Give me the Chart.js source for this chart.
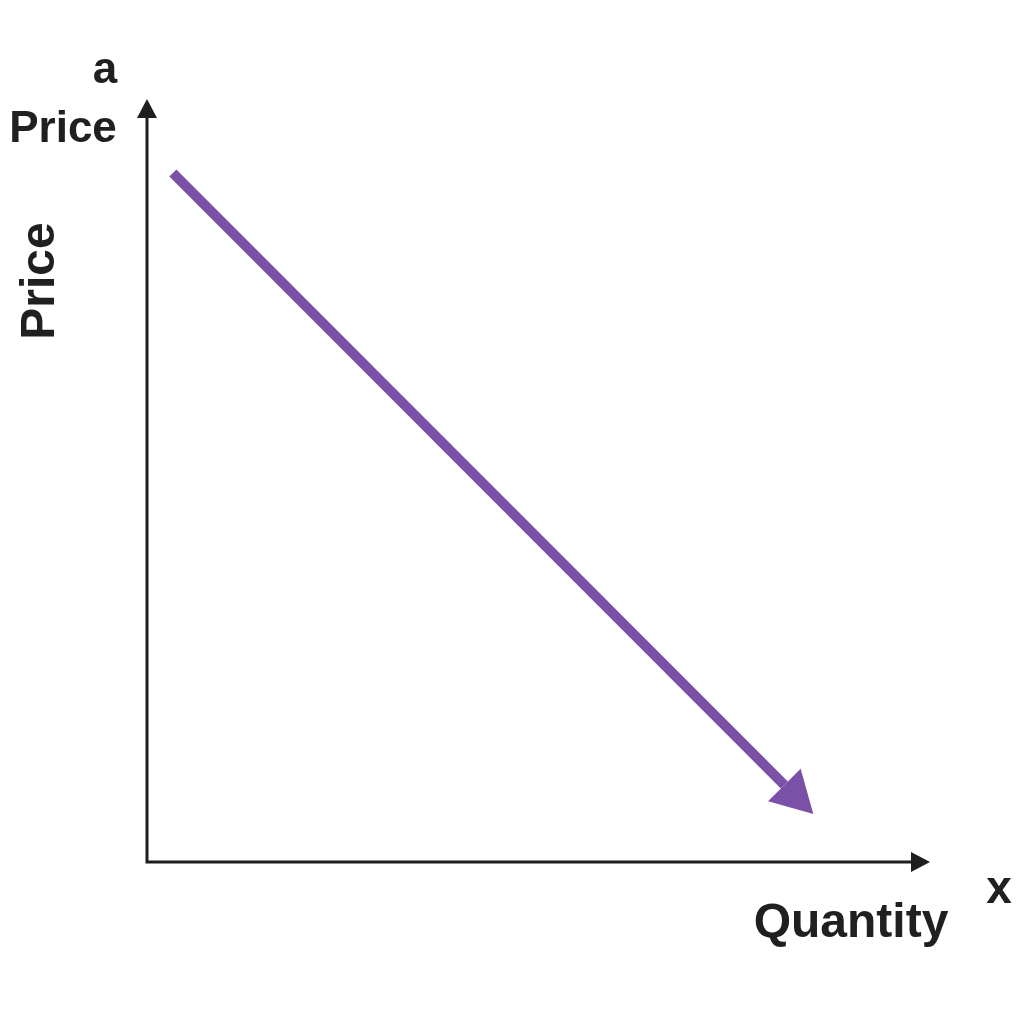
<!DOCTYPE html>
<html>
<head>
<meta charset="utf-8">
<script src="https://cdn.jsdelivr.net/npm/chart.js@4/dist/chart.umd.min.js"></script>
<style>
  body { margin: 0; background: #fff; }
  #wrap { width: 1024px; height: 1024px; }
</style>
</head>
<body>
<div id="wrap"><canvas id="demand" width="1024" height="1024"></canvas></div>
<script>
// demand curve: quantity vs price (arbitrary units 0-10)
const quantity = [0.33, 8.14];
const price = [9.03, 1.01];
const axisMax = 10;

const labels = {
  yTop: 'a',
  yName: 'Price',
  yTitle: 'Price',
  xEnd: 'x',
  xTitle: 'Quantity'
};

const ink = '#1e1e1e';
const purple = '#7a51a7';

// axes with arrows, arrowhead on the curve, labels
const diagramPlugin = {
  id: 'diagram',
  afterDatasetsDraw(chart) {
    const { ctx, chartArea: a } = chart;
    ctx.save();

    // axes
    ctx.strokeStyle = ink;
    ctx.fillStyle = ink;
    ctx.lineWidth = 3;
    ctx.beginPath();
    ctx.moveTo(a.left, a.top + 10);
    ctx.lineTo(a.left, a.bottom);
    ctx.lineTo(a.right - 10, a.bottom);
    ctx.stroke();

    ctx.beginPath();
    ctx.moveTo(a.left, a.top);
    ctx.lineTo(a.left - 10, a.top + 19);
    ctx.lineTo(a.left + 10, a.top + 19);
    ctx.closePath();
    ctx.fill();

    ctx.beginPath();
    ctx.moveTo(a.right, a.bottom);
    ctx.lineTo(a.right - 19, a.bottom - 10);
    ctx.lineTo(a.right - 19, a.bottom + 10);
    ctx.closePath();
    ctx.fill();

    // arrowhead at the end of the demand line
    const pts = chart.getDatasetMeta(0).data;
    const p0 = pts[pts.length - 2], p1 = pts[pts.length - 1];
    const ang = Math.atan2(p1.y - p0.y, p1.x - p0.x);
    const len = 41, half = 23;
    const tx = p1.x + len * Math.cos(ang), ty = p1.y + len * Math.sin(ang);
    ctx.fillStyle = purple;
    ctx.beginPath();
    ctx.moveTo(tx, ty);
    ctx.lineTo(p1.x + half * Math.sin(ang), p1.y - half * Math.cos(ang));
    ctx.lineTo(p1.x - half * Math.sin(ang), p1.y + half * Math.cos(ang));
    ctx.closePath();
    ctx.fill();

    // text
    ctx.fillStyle = '#202020';
    ctx.textAlign = 'center';
    ctx.textBaseline = 'alphabetic';
    ctx.font = 'bold 44px "Liberation Sans", Arial, sans-serif';
    ctx.fillText(labels.yTop, 105, 83);
    ctx.fillText(labels.yName, 63, 142);
    ctx.font = 'bold 46px "Liberation Sans", Arial, sans-serif';
    ctx.fillText(labels.xEnd, 999, 903);
    ctx.font = 'bold 48px "Liberation Sans", Arial, sans-serif';
    ctx.fillText(labels.xTitle, 851, 937);

    ctx.translate(54, 281);
    ctx.rotate(-Math.PI / 2);
    ctx.fillText(labels.yTitle, 0, 0);
    ctx.restore();
  }
};

new Chart(document.getElementById('demand'), {
  type: 'line',
  data: {
    datasets: [{
      data: quantity.map((q, i) => ({ x: q, y: price[i] })),
      borderColor: purple,
      borderWidth: 10,
      borderCapStyle: 'butt',
      pointRadius: 0,
      fill: false,
      clip: false
    }]
  },
  options: {
    responsive: false,
    animation: false,
    layout: { padding: { left: 147, right: 94, top: 99, bottom: 162 } },
    plugins: { legend: { display: false }, tooltip: { enabled: false } },
    scales: {
      x: { type: 'linear', min: 0, max: axisMax, display: false },
      y: { type: 'linear', min: 0, max: axisMax, display: false }
    }
  },
  plugins: [diagramPlugin]
});
</script>
</body>
</html>
